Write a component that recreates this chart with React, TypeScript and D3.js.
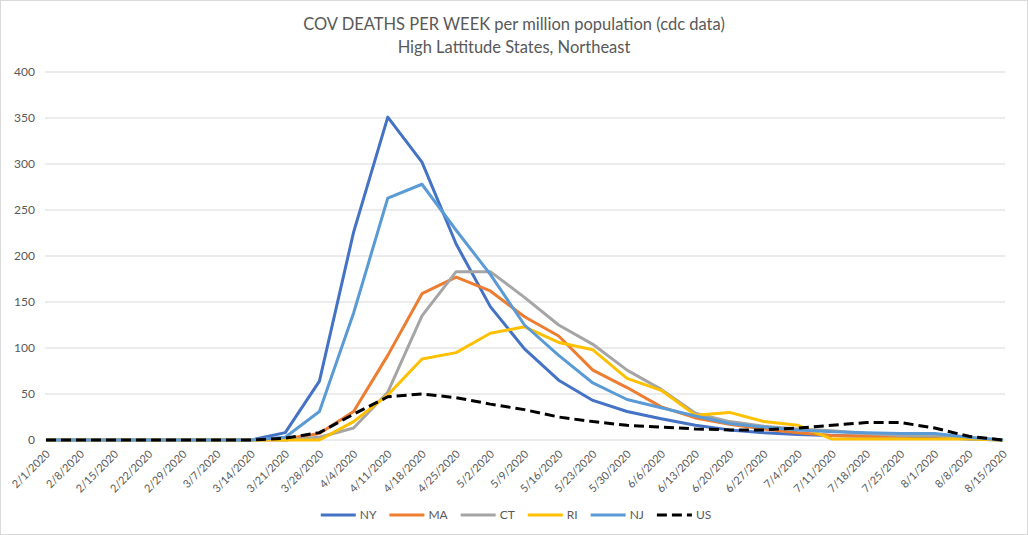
import React from "react";
import * as d3 from "d3";

const dates = ["2/1/2020","2/8/2020","2/15/2020","2/22/2020","2/29/2020","3/7/2020","3/14/2020","3/21/2020","3/28/2020","4/4/2020","4/11/2020","4/18/2020","4/25/2020","5/2/2020","5/9/2020","5/16/2020","5/23/2020","5/30/2020","6/6/2020","6/13/2020","6/20/2020","6/27/2020","7/4/2020","7/11/2020","7/18/2020","7/25/2020","8/1/2020","8/8/2020","8/15/2020"];

const NY = [0,0,0,0,0,0,0,8,64,226,351,302,213,145,99,65,43,31,23,16,11,8,6,5,4,4,3,1,0];
const MA = [0,0,0,0,0,0,0,1,7,31,92,159,177,162,134,113,76,57,36,24,17,12,8,5,4,4,5,2,0];
const CT = [0,0,0,0,0,0,0,0,3,13,52,135,183,183,155,125,104,76,55,29,20,15,12,10,7,5,5,2,0];
const RI = [0,0,0,0,0,0,0,0,0,20,49,88,95,116,123,106,98,67,54,27,30,20,16,1,1,1,1,1,0];
const NJ = [0,0,0,0,0,0,0,3,31,138,263,278,228,180,125,92,62,44,35,26,18,14,11,9,8,7,7,3,0];
const US = [0,0,0,0,0,0,0,2,8,28,47,50,46,39,33,25,20,16,14,12,11,11,13,16,19,19,13,4,0];

const yTicks = [0, 50, 100, 150, 200, 250, 300, 350, 400];

const seriesNames = ["NY", "MA", "CT", "RI", "NJ", "US"];
const seriesValues = [NY, MA, CT, RI, NJ, US];
const seriesColors = ["#4472C4", "#ED7D31", "#A5A5A5", "#FFC000", "#5B9BD5", "#000000"];

const W = 1028, H = 535;
const FONT = "Lato, 'Open Sans', sans-serif";
const TXT = "#595959";

function measure(text: string, font: string): number {
  const c = document.createElement("canvas");
  const ctx = c.getContext("2d");
  if (!ctx) return text.length * 7;
  ctx.font = font;
  return ctx.measureText(text).width;
}

export default function App() {
  const x = d3.scalePoint<string>().domain(dates).range([46, 1003]);
  const y = d3.scaleLinear().domain([0, 400]).range([440, 72]);
  const line = d3.line<number>()
    .x((_, i) => x(dates[i]) as number)
    .y((d) => y(d));

  const legendFont = `12px ${FONT}`;
  const lineLen = 35, gapText = 4, gapItem = 13;
  const widths = seriesNames.map((n) => lineLen + gapText + measure(n, legendFont));
  const total = widths.reduce((a, b) => a + b, 0) + gapItem * (widths.length - 1);
  let cur = 516 - total / 2;
  const legendPos = widths.map((w) => { const p = cur; cur += w + gapItem; return p; });
  const legendY = 515;

  return (
    <svg width={W} height={H} style={{ position: "absolute", left: 0, top: 0, background: "#fff" }}>
      <rect x={0.5} y={0.5} width={W - 1} height={H - 1} fill="#fff" stroke="#d9d9d9" />
      <text x={514} y={30} textAnchor="middle" fontFamily={FONT} fontSize={16.5} fill={TXT}>
        COV DEATHS PER WEEK per million population (cdc data)
      </text>
      <text x={514} y={53} textAnchor="middle" fontFamily={FONT} fontSize={16.5} fill={TXT}>
        High Lattitude States, Northeast
      </text>
      {yTicks.map((t) => (
        <g key={t}>
          <line x1={45} x2={1005} y1={y(t)} y2={y(t)} stroke="#d9d9d9" strokeWidth={1} />
          <text x={35} y={y(t)} dy="0.35em" textAnchor="end" fontFamily={FONT} fontSize={12} fill={TXT}>{t}</text>
        </g>
      ))}
      {dates.map((d) => (
        <text key={d} transform={`translate(${(x(d) as number) + 2},${452}) rotate(-45)`}
          textAnchor="end" dy="0.35em" fontFamily={FONT} fontSize={11} fill={TXT}>{d}</text>
      ))}
      {seriesValues.map((vals, k) => (
        <path key={seriesNames[k]} d={line(vals) || ""} fill="none" stroke={seriesColors[k]}
          strokeWidth={3} strokeLinejoin="round"
          strokeDasharray={seriesNames[k] === "US" ? "10,5" : undefined} />
      ))}
      {seriesNames.map((n, k) => (
        <g key={n} transform={`translate(${legendPos[k]},${legendY})`}>
          <line x1={0} x2={lineLen} y1={0} y2={0} stroke={seriesColors[k]} strokeWidth={3}
            strokeDasharray={n === "US" ? "10,5" : undefined} />
          <text x={lineLen + gapText} y={0} dy="0.35em" fontFamily={FONT} fontSize={12} fill={TXT}>{n}</text>
        </g>
      ))}
    </svg>
  );
}
